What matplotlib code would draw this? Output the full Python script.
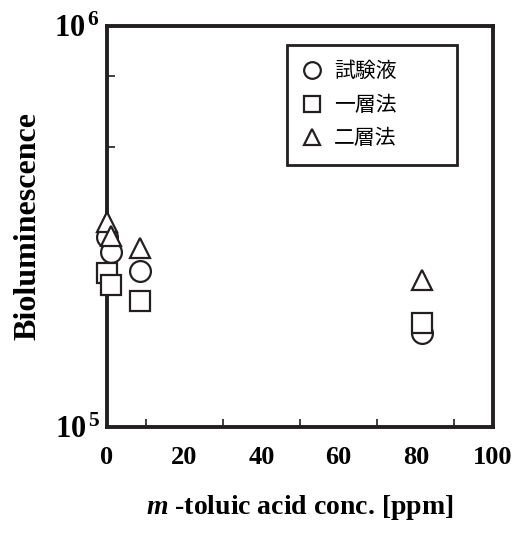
import matplotlib
matplotlib.use("Agg")
import matplotlib.pyplot as plt
from matplotlib.lines import Line2D
from matplotlib.ticker import FixedLocator, FixedFormatter, NullFormatter

plt.rcParams['font.family'] = ['Liberation Serif']
plt.rcParams['mathtext.fontset'] = 'custom'
plt.rcParams['mathtext.rm'] = 'Liberation Serif:bold'
plt.rcParams['mathtext.bf'] = 'Liberation Serif:bold'
plt.rcParams['mathtext.it'] = 'Liberation Serif:bold:italic'

# m-toluic acid conc. [ppm] and bioluminescence
conc_test = [0, 1, 8.5, 81.5]
lum_test = [2.98e5, 2.73e5, 2.45e5, 1.72e5]      # 試験液
conc_one = [0, 1, 8.5, 81.5]
lum_one = [2.42e5, 2.26e5, 2.06e5, 1.82e5]       # 一層法
conc_two = [0, 1, 8.5, 81.5]
lum_two = [3.25e5, 2.99e5, 2.80e5, 2.33e5]       # 二層法

labels = ['試験液', '一層法', '二層法']
xticks = [0, 20, 40, 60, 80, 100]
yticks = [1e5, 1e6]
yticklabels = [r'$10^{\,5}$', r'$10^{\,6}$']

fig = plt.figure(figsize=(5.31, 5.39), dpi=100)
ax = fig.add_axes([0.2015, 0.2078, 0.727, 0.744])

mk = dict(linestyle='none', markerfacecolor='white', markeredgecolor='#231f20',
          markeredgewidth=1.6)
ax.plot(conc_test, lum_test, marker='o', markersize=15, clip_on=False, zorder=5, **mk)
ax.plot(conc_two, lum_two, marker='^', markersize=15, clip_on=False, zorder=5, **mk)
ax.plot(conc_one, lum_one, marker='s', markersize=14, clip_on=False, zorder=5, **mk)

ax.set_yscale('log')
ax.set_xlim(0, 100)
ax.set_ylim(1e5, 1e6)

ax.xaxis.set_major_locator(FixedLocator(xticks))
ax.xaxis.set_minor_locator(FixedLocator(range(10, 100, 10)))
ax.yaxis.set_major_locator(FixedLocator(yticks))
ax.yaxis.set_major_formatter(FixedFormatter(yticklabels))
ax.yaxis.set_minor_locator(FixedLocator([2.5e5, 5e5, 7.5e5]))
ax.yaxis.set_minor_formatter(NullFormatter())

ax.tick_params(which='both', direction='in', top=False, right=False,
               width=1.2, color='#231f20')
ax.tick_params(which='major', length=0)
ax.tick_params(which='minor', length=6)
ax.tick_params(axis='x', which='major', labelsize=19, pad=14)
ax.tick_params(axis='y', which='major', labelsize=22, pad=5)
for lab in ax.get_xticklabels():
    lab.set_fontweight('bold')

for s in ax.spines.values():
    s.set_linewidth(2.8)
    s.set_color('#231f20')

ax.set_xlabel(r'$\mathit{m}$ -toluic acid conc. [ppm]', fontsize=20,
              fontweight='bold', labelpad=17)
ax.set_ylabel('Bioluminescence', fontsize=23, fontweight='bold', labelpad=9)

handles = [Line2D([], [], marker=m, markersize=s, **mk)
           for m, s in [('o', 12), ('s', 11), ('^', 12)]]
leg = ax.legend(handles, labels, loc='upper left',
                bbox_to_anchor=(0.466, 0.653, 0.441, 0.30), mode='expand',
                prop={'family': ['Noto Sans CJK JP'], 'size': 15},
                frameon=True, fancybox=False, borderpad=0.75, handlelength=0.9,
                handletextpad=0.6, labelspacing=0.55, borderaxespad=0)
leg.get_frame().set_edgecolor('#231f20')
leg.get_frame().set_linewidth(2)
leg.get_frame().set_alpha(1)

fig.savefig('out.png', dpi=100)
